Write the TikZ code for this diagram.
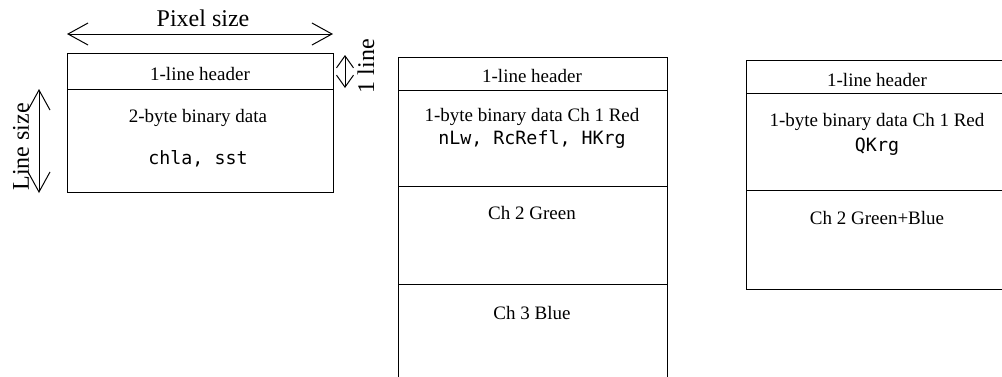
\documentclass[tikz,border=0pt]{standalone}
\usepackage{fontspec}
\setmainfont{Liberation Serif}
\newfontfamily\monofont{DejaVu Sans Mono}
\usetikzlibrary{arrows.meta}
\tikzset{
  frame/.style={draw=black, line width=1pt},
  lbl/.style={font=\fontsize{19}{22}\selectfont, inner sep=0pt, anchor=center},
  code/.style={font=\monofont\fontsize{18.3}{22}\selectfont, inner sep=0pt, anchor=center},
  dim/.style={font=\fontsize{24}{28}\selectfont, inner sep=0pt, anchor=center},
  bigarrow/.style={line width=1pt, {Straight Barb[length=20pt,width=22pt]}-{Straight Barb[length=20pt,width=22pt]}},
  smallarrow/.style={line width=1pt, {Straight Barb[length=12pt,width=17pt]}-{Straight Barb[length=12pt,width=17pt]}}
}
\begin{document}
\begin{tikzpicture}[x=1pt,y=-1pt]
\useasboundingbox (0,0) rectangle (1002,376);
\clip (0,0) rectangle (1002,376);
\fill[white] (0,0) rectangle (1002,376);

% Box 1
\draw[frame] (67,53) rectangle (333,192);
\draw[frame] (67,89) -- (333,89);
\node[lbl] (h1) at (200,74) {1-line header};
\node[lbl] (d1) at (198,118) {2-byte binary data};
\node[code] (c1) at (198,159) {chla, sst};

% dimension arrows
\coordinate (pl) at (67,34);
\coordinate (pr) at (333,34);
\draw[bigarrow] (pl) -- (pr);
\node[dim] (ps) at (203,18) {Pixel size};

\coordinate (lt) at (39,89);
\coordinate (lb) at (39,193);
\draw[bigarrow] (lt) -- (lb);
\node[dim, rotate=90] (ls) at (21,147) {Line size};

\coordinate (ot) at (345,55);
\coordinate (ob) at (345,88);
\draw[smallarrow] (ot) -- (ob);
\node[dim, rotate=90] (ol) at (366,66) {1 line};

% Box 2
\draw[frame] (398,400) -- (398,57) -- (667,57) -- (667,400);
\draw[frame] (398,90) -- (667,90);
\draw[frame] (398,186) -- (667,186);
\draw[frame] (398,284) -- (667,284);
\node[lbl] (h2) at (532,76) {1-line header};
\node[lbl] (d2) at (532,117) {1-byte binary data Ch 1 Red};
\node[code] (c2) at (532,139) {nLw, RcRefl, HKrg};
\node[lbl] (g2) at (532,213) {Ch 2 Green};
\node[lbl] (b2) at (532,313) {Ch 3 Blue};

% Box 3
\draw[frame] (746,60) rectangle (1010,289);
\draw[frame] (746,93) -- (1010,93);
\draw[frame] (746,190) -- (1010,190);
\node[lbl] (h3) at (877,80) {1-line header};
\node[lbl] (d3) at (877,122) {1-byte binary data Ch 1 Red};
\node[code] (c3) at (877,147) {QKrg};
\node[lbl] (g3) at (877,218) {Ch 2 Green+Blue};
\end{tikzpicture}
\end{document}
